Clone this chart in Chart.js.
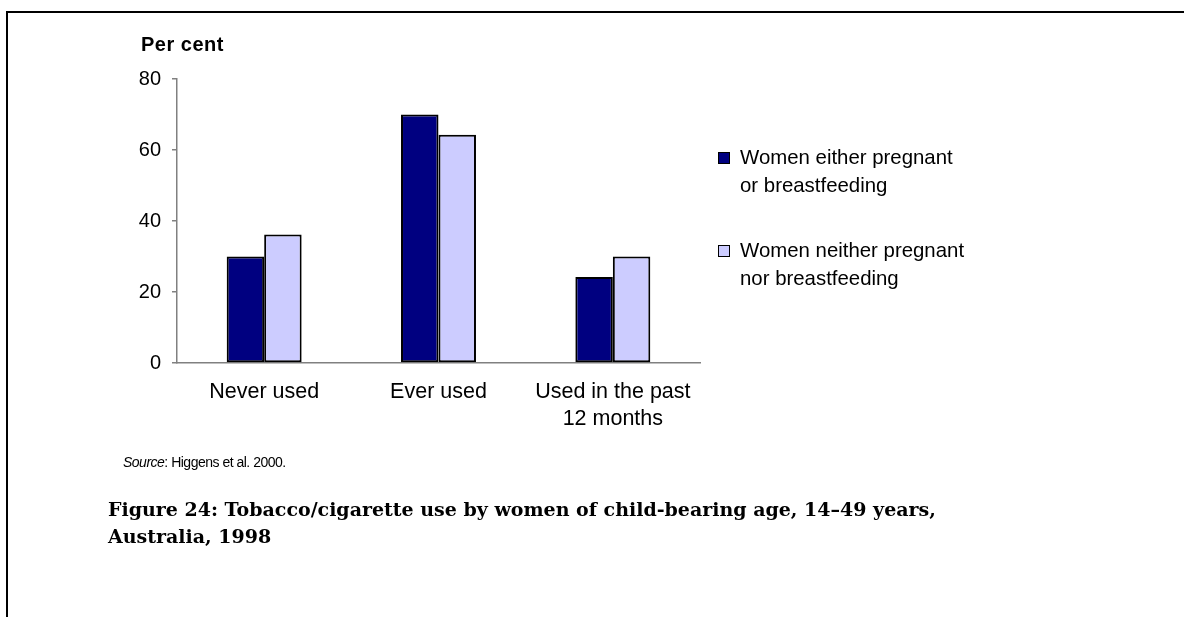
<!DOCTYPE html>
<html>
<head>
<meta charset="utf-8">
<script src="https://cdn.jsdelivr.net/npm/chart.js@4.4.0/dist/chart.umd.min.js"></script>
<style>
  html, body { margin:0; padding:0; background:#fff; }
  #page { position:relative; width:1184px; height:617px; overflow:hidden; background:#fff; }
  #frame { position:absolute; left:6px; top:11px; width:1300px; height:700px; border-top:2px solid #000; border-left:2px solid #000; }
  #chart { position:absolute; left:0; top:0; }
  .t { position:absolute; white-space:nowrap; color:#000; font-family:"Liberation Sans", Arial, sans-serif; }
  #ytitle { left:141px; top:34px; font-size:20px; line-height:20px; font-weight:bold; letter-spacing:0.5px; }
  #legend { position:absolute; left:718px; top:143px; font-family:"Liberation Sans", Arial, sans-serif; font-size:20.4px; line-height:28px; }
  .li { position:relative; padding-left:22px; margin-bottom:37px; white-space:nowrap; }
  .sw { position:absolute; left:0; top:9px; width:10px; height:10px; border:1px solid #000; }
  #source { left:123px; top:453px; font-size:14px; line-height:18px; letter-spacing:-0.5px; }
  #caption { left:108px; top:496px; font-family:"DejaVu Serif", serif; font-weight:bold; font-size:19px; line-height:27px; }
</style>
</head>
<body>
<div id="page">
  <div id="frame"></div>
  <canvas id="chart" width="1184" height="617"></canvas>
  <div class="t" id="ytitle">Per cent</div>
  <div id="legend"></div>
  <div class="t" id="source"><i>Source</i>: Higgens et al. 2000.</div>
  <div class="t" id="caption">Figure 24: Tobacco/cigarette use by women of child-bearing age, 14–49 years,<br>Australia, 1998</div>
</div>
<script>
// ---- data ----
const categories = ["Never used", "Ever used", ["Used in the past", "12 months"]];
const seriesNames = [
  ["Women either pregnant", "or breastfeeding"],
  ["Women neither pregnant", "nor breastfeeding"]
];
const pregnantOrBreastfeeding = [30.0, 70.0, 24.2];
const neitherPregnantNorBreastfeeding = [36.2, 64.3, 30.0];
const yTicks = [0, 20, 40, 60, 80];
const seriesColors = ["#000080", "#CCCCFF"];
const seriesValues = [pregnantOrBreastfeeding, neitherPregnantNorBreastfeeding];

// ---- legend (HTML, built from series) ----
const legend = document.getElementById('legend');
seriesNames.forEach((name, i) => {
  const item = document.createElement('div');
  item.className = 'li';
  const sw = document.createElement('span');
  sw.className = 'sw';
  sw.style.background = seriesColors[i];
  item.appendChild(sw);
  item.appendChild(document.createTextNode(name[0]));
  item.appendChild(document.createElement('br'));
  item.appendChild(document.createTextNode(name[1]));
  legend.appendChild(item);
});

const fam = '"Liberation Sans", Arial, sans-serif';

new Chart(document.getElementById('chart'), {
  type: 'bar',
  data: {
    labels: categories,
    datasets: seriesValues.map((vals, i) => ({
      label: seriesNames[i].join(' '),
      data: vals,
      backgroundColor: seriesColors[i],
      borderColor: '#000',
      borderWidth: 2,
      borderSkipped: false,
      categoryPercentage: 0.43,
      barPercentage: 1.0
    }))
  },
  options: {
    responsive: false,
    animation: false,
    events: [],
    layout: { padding: { top: 79, right: 484, bottom: 184, left: 0 } },
    plugins: { legend: { display: false }, tooltip: { enabled: false }, title: { display: false } },
    scales: {
      x: {
        grid: { display: false, drawTicks: false },
        border: { display: true, color: '#808080', width: 1.5 },
        ticks: { color: '#000', font: { family: fam, size: 21.5, lineHeight: '27px' }, padding: 15.5, maxRotation: 0, autoSkip: false },
        afterFit: (s) => { s.height = 70; }
      },
      y: {
        min: 0, max: 80,
        afterBuildTicks: (s) => { s.ticks = yTicks.map(v => ({ value: v })); },
        grid: { drawOnChartArea: false, drawTicks: true, tickLength: 5, color: '#808080', lineWidth: 1.5 },
        border: { display: true, color: '#808080', width: 1.5 },
        ticks: { color: '#000', font: { family: fam, size: 20 }, padding: 11 },
        afterFit: (s) => { s.width = 177; }
      }
    }
  }
});
</script>
</body>
</html>
